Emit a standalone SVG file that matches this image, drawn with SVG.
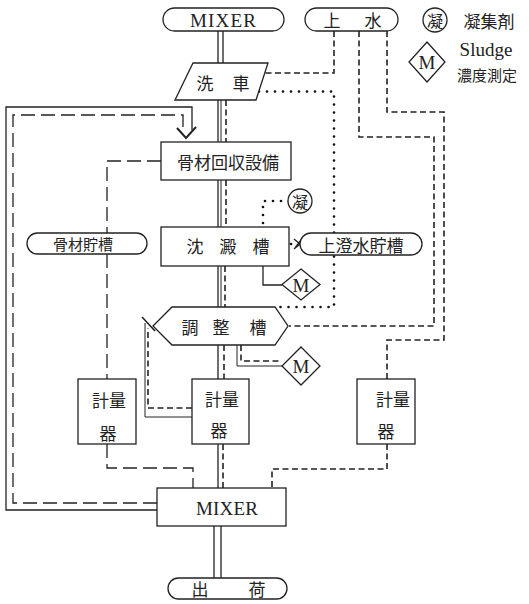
<svg xmlns="http://www.w3.org/2000/svg" width="529" height="604" viewBox="0 0 529 604">
<style>
.bx{fill:#fff;stroke:#222;stroke-width:1.3}
.ln{fill:none;stroke:#222;stroke-width:1.3}
.th{fill:none;stroke:#222;stroke-width:1}
.ds{fill:none;stroke:#222;stroke-width:1.6;stroke-dasharray:6 3.5}
.ld{fill:none;stroke:#222;stroke-width:1.3;stroke-dasharray:14 6}
.dt{fill:none;stroke:#111;stroke-width:2.7;stroke-dasharray:0 8;stroke-linecap:round}
.jp{font-family:"Noto Sans CJK JP","Noto Sans CJK SC",sans-serif;font-size:17px;fill:#222;text-anchor:middle;dominant-baseline:central}
.en{font-family:"Liberation Serif",serif;font-size:19px;fill:#222;text-anchor:middle;dominant-baseline:central}
</style>
<rect width="529" height="604" fill="#fff"/>
<g id="connectors">
<path class="ln" d="M218,31V63M223,31V63"/>
<path class="ln" d="M218,100V142"/><path class="th" d="M221,100V142"/><path class="ds" d="M226,100V142"/>
<path class="ln" d="M218,180V227"/><path class="th" d="M221,180V227"/><path class="ds" d="M226,180V227"/>
<path class="ln" d="M218,266V307"/><path class="th" d="M221,266V307"/><path class="ds" d="M225,266V307"/>
<path class="ln" d="M218,345V379"/><path class="ds" d="M224,345V379"/>
<path class="ln" d="M218,444V488"/><path class="ds" d="M223,444V488"/>
<path class="ln" d="M214,526V578M221,526V578"/>
<path class="ln" d="M157,510H6V107H192V130"/>
<path class="ld" d="M157,503H13V115H183V127"/>
<polyline class="ln" style="stroke-width:2" points="177,128 186,138 196,127"/>
<path class="ld" d="M161,161H107V233"/>
<path class="ld" d="M107,254V379"/>
<path class="ld" d="M107,444V468H193V488"/>
<path class="ds" d="M334,31V73H265"/>
<path class="ds" d="M359,31V137H434V326H289"/>
<path class="ds" d="M387,31V112H444V340H387V379"/>
<path class="ds" d="M387,444V469H272V488"/>
<path class="dt" d="M259,91.5H334V307H277"/>
<path class="dt" d="M289,201H263V227"/>
<path class="dt" d="M291,244H297"/>
<path class="ln" d="M294,239L300,244L294,249M295,248L301,240"/>
<path class="ln" d="M263,266V285H282"/>
<path class="th" d="M237,345V366H282"/>
<path class="ds" d="M241,345V361H282"/>
<path class="th" d="M192,417H145V323"/>
<path class="ds" d="M192,408H148V328"/>
<path class="ln" style="stroke-width:1.6" d="M142,317L155,331"/>
</g>
<g id="mixer-top"><rect class="bx" x="163" y="8" width="121" height="23" rx="11.5"/><text class="en" x="223" y="20" textLength="66">MIXER</text></g>
<g id="jousui"><rect class="bx" x="305" y="8" width="93" height="23" rx="11.5"/><text class="jp" x="332" y="19.5">上</text><text class="jp" x="373" y="19.5">水</text></g>
<g id="legend-gyo"><circle class="bx" cx="435" cy="20" r="12"/><text class="jp" x="435" y="20" style="font-size:16px">凝</text><text class="jp" x="489" y="20" style="font-size:17px">凝集剤</text></g>
<g id="legend-m"><polygon class="bx" points="427,42 445,62 427,82 409,62"/><text class="en" x="427" y="62">M</text><text class="en" x="486" y="49" style="font-size:19px">Sludge</text><text class="jp" x="487" y="74" style="font-size:15px">濃度測定</text></g>
<g id="sensha"><polygon class="bx" points="193,63 268,63 256,100 175,100"/><text class="jp" x="205" y="82">洗</text><text class="jp" x="241" y="82">車</text></g>
<g id="kotsuzai-kaishu"><rect class="bx" x="161" y="142" width="130" height="38"/><text class="jp" x="228" y="161.5">骨材回収設備</text></g>
<g id="kotsuzai-chosou"><rect class="bx" x="27" y="233" width="120" height="21" rx="10.5"/><text class="jp" x="83" y="243.5" style="font-size:15px">骨材貯槽</text></g>
<g id="gyo"><circle class="bx" cx="300" cy="201" r="12"/><text class="jp" x="300" y="201" style="font-size:16px">凝</text></g>
<g id="chinden"><rect class="bx" x="161" y="227" width="128" height="39"/><text class="jp" x="195" y="245">沈</text><text class="jp" x="228" y="245">澱</text><text class="jp" x="261" y="245">槽</text></g>
<g id="uwazumi"><rect class="bx" x="300" y="233" width="122" height="22" rx="11"/><text class="jp" x="361" y="244">上澄水貯槽</text></g>
<g id="m1"><polygon class="bx" points="301,269 320,284.5 301,300 282,284.5"/><text class="en" x="301" y="285">M</text></g>
<g id="chosei"><polygon class="bx" points="153,326 172,307 275,307 288,326 275,345 172,345"/><text class="jp" x="190" y="326">調</text><text class="jp" x="221" y="326">整</text><text class="jp" x="258" y="326">槽</text></g>
<g id="m2"><polygon class="bx" points="301,347 320,366 301,385 282,366"/><text class="en" x="301" y="366.5">M</text></g>
<g id="keiryo-left"><rect class="bx" x="78" y="379" width="58" height="65"/><text class="jp" x="109" y="399">計量</text><text class="jp" x="108" y="432">器</text></g>
<g id="keiryo-mid"><rect class="bx" x="192" y="379" width="57" height="65"/><text class="jp" x="222" y="398">計量</text><text class="jp" x="219" y="429">器</text></g>
<g id="keiryo-right"><rect class="bx" x="357" y="379" width="58" height="65"/><text class="jp" x="393" y="398">計量</text><text class="jp" x="386" y="430">器</text></g>
<g id="mixer-bottom"><rect class="bx" x="157" y="488" width="129" height="38"/><text class="en" x="227" y="508" textLength="62">MIXER</text></g>
<g id="shukka"><rect class="bx" x="168" y="578" width="119" height="21" rx="10.5"/><text class="jp" x="200" y="588.5">出</text><text class="jp" x="257" y="588.5">荷</text></g>
</svg>
